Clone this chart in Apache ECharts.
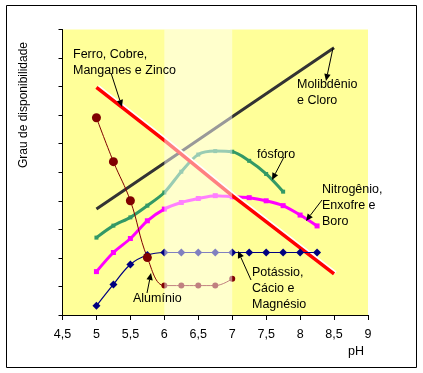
<!DOCTYPE html>
<html><head><meta charset="utf-8">
<script src="https://cdn.jsdelivr.net/npm/echarts@6/dist/echarts.min.js"></script>
<style>html,body{margin:0;padding:0;background:#fff}#c{width:423px;height:373px}</style>
</head><body><div id="c"></div>
<script>
// Data
var xTicks = [4.5,5,5.5,6,6.5,7,7.5,8,8.5,9];
var bandX = [6, 7];
var ferroX = [5, 6, 7, 8.5];
var ferroY = [7.97, 6.12, 4.18, 1.44];
var molibX = [5, 6, 7, 8.5];
var molibY = [3.71, 5.32, 6.94, 9.36];
var fosforoX = [5,5.25,5.5,5.75,6,6.25,6.5,6.75,7,7.25,7.5,7.75];
var fosforoY = [2.71,3.13,3.42,3.83,4.29,5.02,5.62,5.74,5.72,5.40,4.94,4.32];
var nitroX = [5,5.25,5.5,5.75,6,6.25,6.5,6.75,7,7.25,7.5,7.75,8,8.25];
var nitroY = [1.52,2.19,2.68,3.30,3.71,3.94,4.08,4.18,4.14,4.11,4.00,3.83,3.50,3.12];
var potX = [5,5.25,5.5,5.75,6,6.25,6.5,6.75,7,7.25,7.5,7.75,8,8.25];
var potY = [0.32,1.07,1.77,2.10,2.19,2.19,2.19,2.19,2.19,2.19,2.19,2.19,2.19,2.19];
var aluX = [5,5.25,5.5,5.75,6,6.25,6.5,6.75,7];
var aluY = [6.91,5.37,4.00,2.01,1.03,1.03,1.03,1.03,1.27];

function zip(a,b){return a.map(function(v,i){return [v,b[i]];});}

function arrow(x1,y1,x2,y2){
  var dx=x2-x1, dy=y2-y1, L=Math.sqrt(dx*dx+dy*dy), ux=dx/L, uy=dy/L;
  var len=7, hw=3.2;
  var bx=x2-ux*len, by=y2-uy*len;
  return [
    {type:'line', shape:{x1:x1,y1:y1,x2:bx,y2:by}, style:{stroke:'#000',lineWidth:1}, z:100},
    {type:'polygon', shape:{points:[[x2,y2],[bx-uy*hw,by+ux*hw],[bx+uy*hw,by-ux*hw]]}, style:{fill:'#000'}, z:100}
  ];
}
function label(x,y,t){
  return {type:'text', x:x, y:y, style:{text:t, font:'12.5px "Liberation Sans", Arial, sans-serif', fill:'#000', lineHeight:16, textVerticalAlign:'top'}, z:100};
}

var graphics = [
  {type:'rect', shape:{x:6.5,y:5.5,width:410,height:362}, style:{fill:'none',stroke:'#000',lineWidth:1}, z:100},
  {type:'text', x:24, y:105, rotation:Math.PI/2, style:{text:'Grau de disponibilidade', font:'12px "Liberation Sans", Arial, sans-serif', fill:'#000', textAlign:'center', textVerticalAlign:'middle'}, z:100},
  {type:'text', x:356, y:352, style:{text:'pH', font:'12.5px "Liberation Sans", Arial, sans-serif', fill:'#000', textAlign:'center', textVerticalAlign:'middle'}, z:100},
  label(73,47,'Ferro, Cobre,\nManganes e Zinco'),
  label(297,77,'Molibdênio\ne Cloro'),
  label(257,147,'fósforo'),
  label(322,182,'Nitrogênio,\nEnxofre e\nBoro'),
  label(252,265,'Potássio,\nCácio e\nMagnésio'),
  label(133,291,'Alumínio')
].concat(arrow(111,73,122,107), arrow(333,48,326,81), arrow(284,157,272,180),
  arrow(322,200,306,221), arrow(251,280,238,251), arrow(147,293,151,273));

var chart = echarts.init(document.getElementById('c'), null, {renderer:'canvas'});
chart.setOption({
  animation:false,
  backgroundColor:'#fff',
  grid:{left:62.5, right:55, top:29.5, bottom:58, show:true, backgroundColor:'#FFFF99', borderWidth:0},
  xAxis:{type:'value', min:4.5, max:9, interval:0.5, splitLine:{show:false},
    axisLine:{lineStyle:{color:'#000',width:1}}, axisTick:{length:5,lineStyle:{color:'#000'}},
    axisLabel:{margin:13, color:'#000', fontSize:12.5, fontFamily:'"Liberation Sans", Arial, sans-serif',
      formatter:function(v){return String(v).replace('.',',');}}},
  yAxis:{type:'value', min:0, max:10, interval:1, splitLine:{show:false},
    axisLine:{show:true,lineStyle:{color:'#000',width:1}}, axisTick:{show:true,length:4,lineStyle:{color:'#000'}},
    axisLabel:{show:false}},
  graphic:graphics,
  series:[
    {type:'line', data:zip(molibX,molibY), symbol:'none', lineStyle:{color:'#333333', width:3}, z:3},
    {type:'line', data:zip(fosforoX,fosforoY), smooth:0.3, symbol:'rect', symbolSize:4, itemStyle:{color:'#339966'}, lineStyle:{color:'#339966', width:3}, z:3},
    {type:'line', data:zip(nitroX,nitroY), smooth:0.3, symbol:'rect', symbolSize:5, itemStyle:{color:'#FF00FF'}, lineStyle:{color:'#FF00FF', width:3}, z:3},
    {type:'line', data:zip(ferroX,ferroY), symbol:'none', lineStyle:{color:'#FF0000', width:3.5, shadowColor:'#ffffff', shadowOffsetX:1.5, shadowOffsetY:-1}, z:4},
    {type:'line', data:zip(potX,potY), smooth:0.4, symbol:'diamond', symbolSize:8, itemStyle:{color:'#000080'}, lineStyle:{color:'#000080', width:1.2}, z:5},
    {type:'line', data:zip(aluX,aluY), smooth:0.4, symbol:'circle',
      symbolSize:function(v,p){return p.dataIndex<4?9:6;}, itemStyle:{color:'#800000'}, lineStyle:{color:'#800000', width:1}, z:5}
  ]
});
// washed-out band between pH 6 and 7, drawn over the lines
var p1 = chart.convertToPixel({gridIndex:0}, [bandX[0], 10]);
var p2 = chart.convertToPixel({gridIndex:0}, [bandX[1], 0]);
chart.setOption({graphic: graphics.concat([
  {type:'rect', shape:{x:p1[0], y:p1[1], width:p2[0]-p1[0], height:p2[1]-p1[1]},
   style:{fill:'rgba(255,255,255,0.5)'}, z:50, silent:true}
])});
</script></body></html>
